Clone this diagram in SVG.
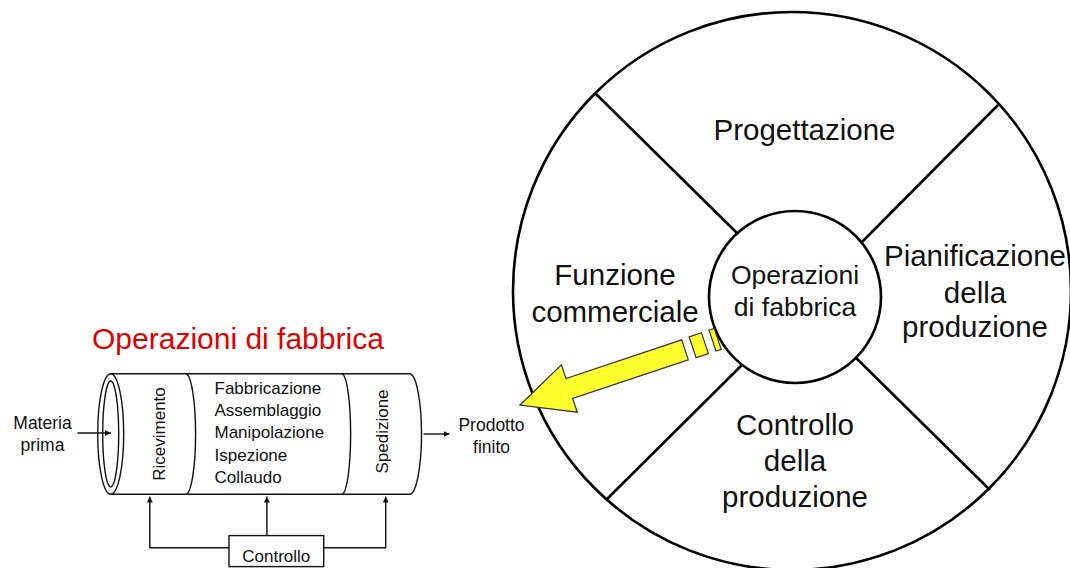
<svg xmlns="http://www.w3.org/2000/svg" width="1070" height="568" viewBox="0 0 1070 568">
  <style>
    .ln { fill: none; stroke: #111; stroke-width: 1.4; }
    .wheel { fill: #fff; stroke: #000; stroke-width: 2.6; }
    .spoke { stroke: #000; stroke-width: 2.6; }
    .big { font-family: "Liberation Sans", Arial, sans-serif; font-size: 29.5px; fill: #111; text-anchor: middle; }
    .mid { font-family: "Liberation Sans", Arial, sans-serif; font-size: 26.5px; fill: #111; text-anchor: middle; }
    .sm { font-family: "Liberation Sans", Arial, sans-serif; font-size: 17px; fill: #111; }
    .lbl { font-family: "Liberation Sans", Arial, sans-serif; font-size: 17.5px; fill: #111; text-anchor: middle; }
    .title { font-family: "Liberation Sans", Arial, sans-serif; font-size: 30px; fill: #E00000; }
    .yel { fill: #FFFF2E; stroke: #333; stroke-width: 1.2; stroke-linejoin: miter; }
  </style>
  <defs>
    <marker id="tip" viewBox="0 0 10 10" refX="10" refY="5" markerWidth="6" markerHeight="6" markerUnits="userSpaceOnUse" orient="auto">
      <path d="M0,0 L10,5 L0,10 z" fill="#111"/>
    </marker>
  </defs>

  <rect width="1070" height="568" fill="#fff"/>

  <!-- Title -->
  <text id="title" class="title" x="92" y="348.5">Operazioni di fabbrica</text>

  <!-- Process cylinder -->
  <g id="cylinder">
    <path class="ln" d="M110.7,373.8 H410 A12,60.3 0 0 1 410,494.3 H110.7"/>
    <ellipse class="ln" cx="110.7" cy="434" rx="13" ry="60.3"/>
    <ellipse class="ln" cx="110.7" cy="434" rx="8" ry="53"/>
    <path class="ln" d="M186,373.8 A10,60.3 0 0 1 186,494.3"/>
    <path class="ln" d="M342,373.8 A9,60.3 0 0 1 342,494.3"/>
  </g>

  <g id="ricevimento">
    <text class="sm" text-anchor="middle" transform="translate(165,434) rotate(-90)">Ricevimento</text>
  </g>
  <g id="lavorazioni">
    <text class="sm" x="214.5" y="393.5">Fabbricazione</text>
    <text class="sm" x="214.5" y="415.9">Assemblaggio</text>
    <text class="sm" x="214.5" y="438.3">Manipolazione</text>
    <text class="sm" x="214.5" y="460.7">Ispezione</text>
    <text class="sm" x="214.5" y="483.1">Collaudo</text>
  </g>
  <g id="spedizione">
    <text class="sm" text-anchor="middle" transform="translate(387.5,431.5) rotate(-90)">Spedizione</text>
  </g>

  <g id="materia-prima">
    <text class="lbl" x="42.5" y="429">Materia</text>
    <text class="lbl" x="42.5" y="450.5">prima</text>
  </g>
  <g id="prodotto-finito">
    <text class="lbl" x="491.5" y="430.5">Prodotto</text>
    <text class="lbl" x="491.5" y="452.5">finito</text>
  </g>

  <g id="controllo">
    <rect class="ln" x="229" y="535.6" width="94.7" height="31"/>
    <text class="sm" text-anchor="middle" x="276.3" y="562">Controllo</text>
  </g>

  <!-- Flow and control connectors -->
  <g id="connectors" class="ln">
    <line x1="77.5" y1="433" x2="111" y2="433" marker-end="url(#tip)"/>
    <line x1="423.5" y1="434" x2="449.5" y2="434" marker-end="url(#tip)"/>
    <polyline points="229,547.7 149.8,547.7 149.8,496.5" marker-end="url(#tip)"/>
    <polyline points="323.7,547.7 385.7,547.7 385.7,496.5" marker-end="url(#tip)"/>
    <line x1="266.9" y1="535.6" x2="266.9" y2="496.5" marker-end="url(#tip)"/>
  </g>

  <!-- Functional wheel -->
  <g id="wheel">
    <circle class="wheel" cx="792" cy="291" r="279"/>
    <line class="spoke" x1="596" y1="94" x2="742" y2="238"/>
    <line class="spoke" x1="998" y1="105" x2="857" y2="247"/>
    <line class="spoke" x1="607" y1="499" x2="749" y2="358"/>
    <line class="spoke" x1="990" y1="490" x2="849" y2="351"/>
  </g>

  <g id="progettazione">
    <text class="big" x="804.5" y="139.5">Progettazione</text>
  </g>
  <g id="funzione-commerciale">
    <text class="big" x="615" y="285">Funzione</text>
    <text class="big" x="615" y="322">commerciale</text>
  </g>
  <g id="pianificazione">
    <text class="big" x="975" y="265.5">Pianificazione</text>
    <text class="big" x="975" y="302.5">della</text>
    <text class="big" x="975" y="336.5">produzione</text>
  </g>
  <g id="controllo-produzione">
    <text class="big" x="795" y="434.5">Controllo</text>
    <text class="big" x="795" y="471">della</text>
    <text class="big" x="795" y="506.5">produzione</text>
  </g>

  <g id="operazioni-fabbrica">
    <circle class="wheel" cx="795" cy="297" r="86"/>
    <text class="mid" x="795" y="284">Operazioni</text>
    <text class="mid" x="795" y="316">di fabbrica</text>
  </g>

  <!-- Output arrow -->
  <g id="freccia" transform="translate(520,405) rotate(-18.5)">
    <path class="yel" d="M0,0 L52,-25 L52,-10.5 L174,-10.5 L174,10.5 L52,10.5 L52,25 Z"/>
    <rect class="yel" x="182" y="-11" width="13" height="22"/>
    <rect class="yel" x="203" y="-11" width="5.5" height="22"/>
  </g>
</svg>
